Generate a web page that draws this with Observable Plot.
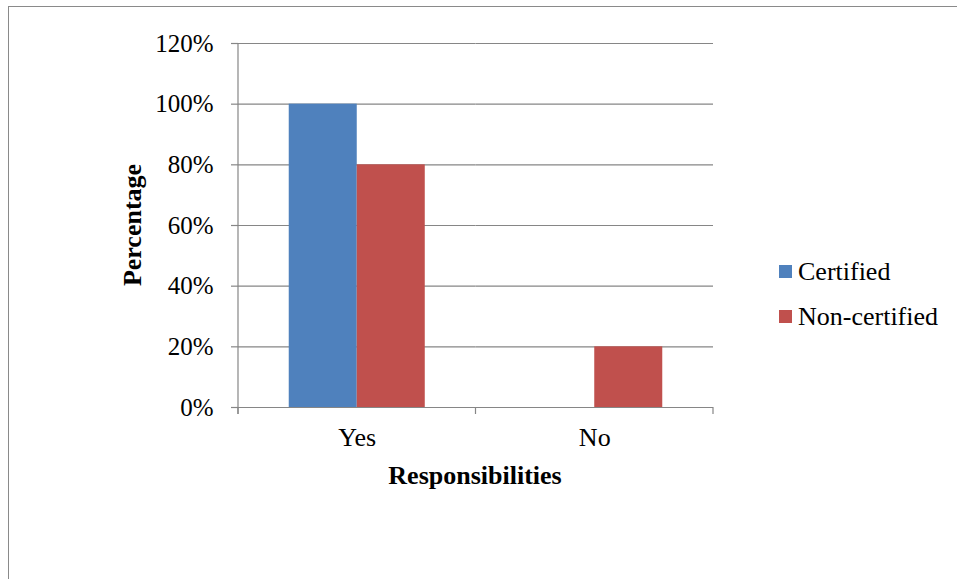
<!DOCTYPE html>
<html>
<head>
<meta charset="utf-8">
<script src="https://cdn.jsdelivr.net/npm/d3@7"></script>
<script src="https://cdn.jsdelivr.net/npm/@observablehq/plot@0.6"></script>
<style>
  html, body { margin: 0; padding: 0; background: #fff; }
  #wrap { position: relative; width: 957px; height: 579px; overflow: hidden; font-family: "Liberation Serif", "Times New Roman", serif; color: #000; }
  #frame { position: absolute; left: 8px; top: 6px; right: -5px; bottom: -5px; border-left: 1px solid #8a8a8a; border-top: 1px solid #8a8a8a; }
  #chart { position: absolute; left: 0; top: 0; }
  .title { position: absolute; font-weight: bold; font-size: 26px; line-height: 26px; white-space: nowrap; }
  #xtitle { left: 475px; top: 463px; transform: translateX(-50%); }
  #ytitle { left: 133px; top: 225px; transform: translate(-50%, -50%) rotate(-90deg); }
  #legend { position: absolute; left: 779px; top: 249px; font-size: 26px; }
  .item { display: flex; align-items: center; height: 45px; line-height: 26px; white-space: nowrap; }
  .sw { width: 13px; height: 13px; margin-right: 6px; }
</style>
</head>
<body>
<div id="wrap">
  <div id="frame"></div>
  <div id="chart"></div>
  <div class="title" id="xtitle"></div>
  <div class="title" id="ytitle"></div>
  <div id="legend"></div>
</div>
<script>
const categories = ["Yes", "No"];
const series = ["Certified", "Non-certified"];
const certifiedValues = [100, 0];
const nonCertifiedValues = [80, 20];
const yTicks = [0, 20, 40, 60, 80, 100, 120];
const seriesColors = ["#4F81BD", "#C0504D"];
const xTitle = "Responsibilities";
const yTitle = "Percentage";

const data = categories.flatMap((c, i) => [
  {category: c, series: series[0], value: certifiedValues[i]},
  {category: c, series: series[1], value: nonCertifiedValues[i]}
]);

const gray = "#868686";

const plot = Plot.plot({
  width: 957,
  height: 579,
  marginLeft: 238,
  marginRight: 244,
  marginTop: 43,
  marginBottom: 172,
  style: {fontFamily: "Liberation Serif, Times New Roman, serif", fontSize: "25px", color: "#000", background: "transparent"},
  fx: {domain: categories, padding: 0, label: null, round: false},
  x: {domain: series, paddingInner: 0, paddingOuter: 0.746, axis: null, round: false},
  y: {domain: [0, 120], label: null},
  color: {domain: series, range: seriesColors},
  marks: [
    Plot.gridY(yTicks, {stroke: gray, strokeOpacity: 1, strokeWidth: 1.2}),
    Plot.barY(data, {fx: "category", x: "series", y: "value", fill: "series"}),
    Plot.ruleY([0], {stroke: gray, strokeWidth: 1.2}),
    Plot.axisY(yTicks, {tickSize: 7, tickPadding: 18, tickFormat: d => d + "%", stroke: gray, strokeWidth: 1.2, fontSize: 25, label: null}),
    Plot.axisFx({anchor: "bottom", tickSize: 0, tickPadding: 20, fontSize: 26, label: null})
  ]
});

// axis line and category boundary ticks from the library's scales
const fx = plot.scale("fx");
const y = plot.scale("y");
const bw = fx.bandwidth;
const bounds = categories.map(c => fx.apply(c)).concat([fx.apply(categories[categories.length - 1]) + bw]);
const y0 = y.apply(0);
const yTop = y.apply(d3.max(yTicks));
const g = d3.select(plot).append("g").attr("stroke", gray).attr("stroke-width", 1.2);
g.append("line").attr("x1", bounds[0]).attr("x2", bounds[0]).attr("y1", yTop).attr("y2", y0 + 7);
bounds.forEach(b => g.append("line").attr("x1", b).attr("x2", b).attr("y1", y0).attr("y2", y0 + 7));

document.getElementById("chart").appendChild(plot);
document.getElementById("xtitle").textContent = xTitle;
document.getElementById("ytitle").textContent = yTitle;

const legend = document.getElementById("legend");
series.forEach((s, i) => {
  const item = document.createElement("div");
  item.className = "item";
  const sw = document.createElement("div");
  sw.className = "sw";
  sw.style.background = seriesColors[i];
  const t = document.createElement("span");
  t.textContent = s;
  item.appendChild(sw);
  item.appendChild(t);
  legend.appendChild(item);
});
</script>
</body>
</html>
